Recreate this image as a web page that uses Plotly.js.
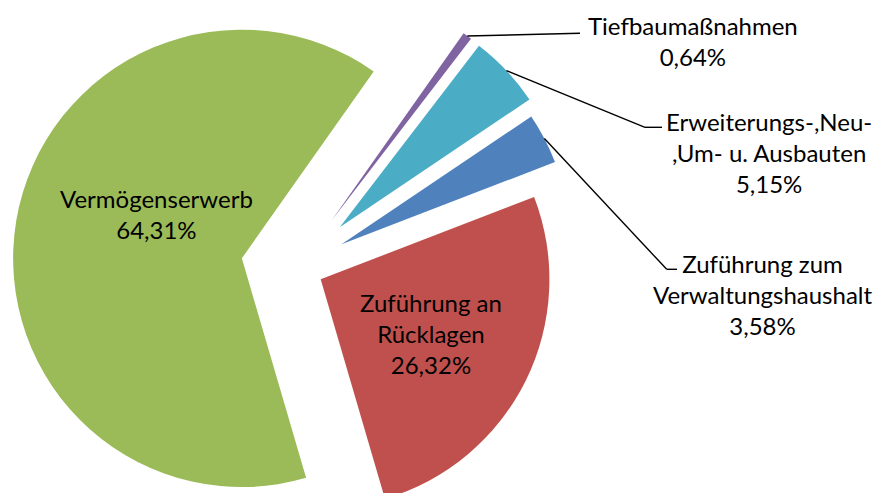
<!DOCTYPE html>
<html><head><meta charset="utf-8">
<script src="https://cdn.plot.ly/plotly-3.0.1.min.js"></script>
<style>
html,body{margin:0;padding:0;overflow:hidden;background:#fff;width:882px;height:493px}
#chart{position:absolute;left:0;top:-20px;width:882px;height:575px}
</style></head>
<body><div id="chart"></div>
<script>
// ---- data ----
const categories = ['Tiefbaumaßnahmen', 'Erweiterungs-,Neu-,Um- u. Ausbauten', 'Zuführung zum Verwaltungshaushalt', 'Zuführung an Rücklagen', 'Vermögenserwerb'];
const labelLines = ['Tiefbaumaßnahmen', 'Erweiterungs-,Neu-<br>,Um- u. Ausbauten', 'Zuführung zum<br>Verwaltungshaushalt', 'Zuführung an<br>Rücklagen', 'Vermögenserwerb'];
const shares = [0.64, 5.15, 3.58, 26.32, 64.31];
const colors = ['#8064A2', '#4BACC6', '#4F81BD', '#C0504D', '#9BBB59'];
const pulls = [0.257, 0.257, 0.22, 0.116, 0.244];

// ---- layout geometry ----
const W = 882, H = 575, OFF = -20;           // div size and vertical offset on the page
const ROT = 35.2;
const domX = [0.01066, 0.66259], domY = [0, 1];
// label block centres (page px) and leader-line end/bend points
const labelPos = [[693, 41.5], [769, 152.5], [762.5, 294], [431, 333], [156.5, 214]];
const leader = [
  [[580, 33.3]],
  [[645, 127.3], [662, 127.3]],
  [[666.7, 269.3], [677, 269.3]],
  null, null
];

const fmt = v => v.toFixed(2).replace('.', ',') + '%';
const px2paperX = x => x / W;
const px2paperY = y => 1 - (y - OFF) / H;

// pie geometry replicated from plotly's own scaling rule
const rx = W * (domX[1] - domX[0]) / 2, ry = H * (domY[1] - domY[0]) / 2;
const maxPull = Math.max(...pulls);
const R = Math.min(rx, ry) / (1 + maxPull);
const cx = W * (domX[0] + domX[1]) / 2;
const cy = H * (1 - (domY[0] + domY[1]) / 2) + OFF;
const total = shares.reduce((a, b) => a + b, 0);

const annotations = [];
const shapes = [];
let cum = 0;
shares.forEach((v, i) => {
  const mid = (ROT + (cum + v / 2) / total * 360) * Math.PI / 180;
  cum += v;
  annotations.push({
    xref: 'paper', yref: 'paper',
    x: px2paperX(labelPos[i][0]), y: px2paperY(labelPos[i][1]),
    xanchor: 'center', yanchor: 'middle', align: 'center',
    showarrow: false,
    text: labelLines[i] + '<br>' + fmt(v),
    font: {family: 'Lato, "Open Sans", sans-serif', size: 24, color: '#000'}
  });
  if (leader[i]) {
    const d = R * (1 + pulls[i]);
    let p = [cx + d * Math.sin(mid), cy - d * Math.cos(mid)];
    leader[i].forEach(q => {
      shapes.push({type: 'line', xref: 'paper', yref: 'paper',
        x0: px2paperX(p[0]), y0: px2paperY(p[1]), x1: px2paperX(q[0]), y1: px2paperY(q[1]),
        line: {color: '#000', width: 1.4}});
      p = q;
    });
  }
});

const trace = {
  type: 'pie',
  labels: categories,
  values: shares,
  sort: false,
  direction: 'clockwise',
  rotation: ROT,
  pull: pulls,
  marker: {colors: colors, line: {width: 0}},
  textinfo: 'none',
  hoverinfo: 'skip',
  domain: {x: domX, y: domY}
};

Plotly.newPlot('chart', [trace], {
  width: W, height: H,
  margin: {l: 0, r: 0, t: 0, b: 0},
  showlegend: false,
  paper_bgcolor: '#fff',
  annotations: annotations,
  shapes: shapes
}, {displayModeBar: false, staticPlot: true});
</script>
</body></html>
